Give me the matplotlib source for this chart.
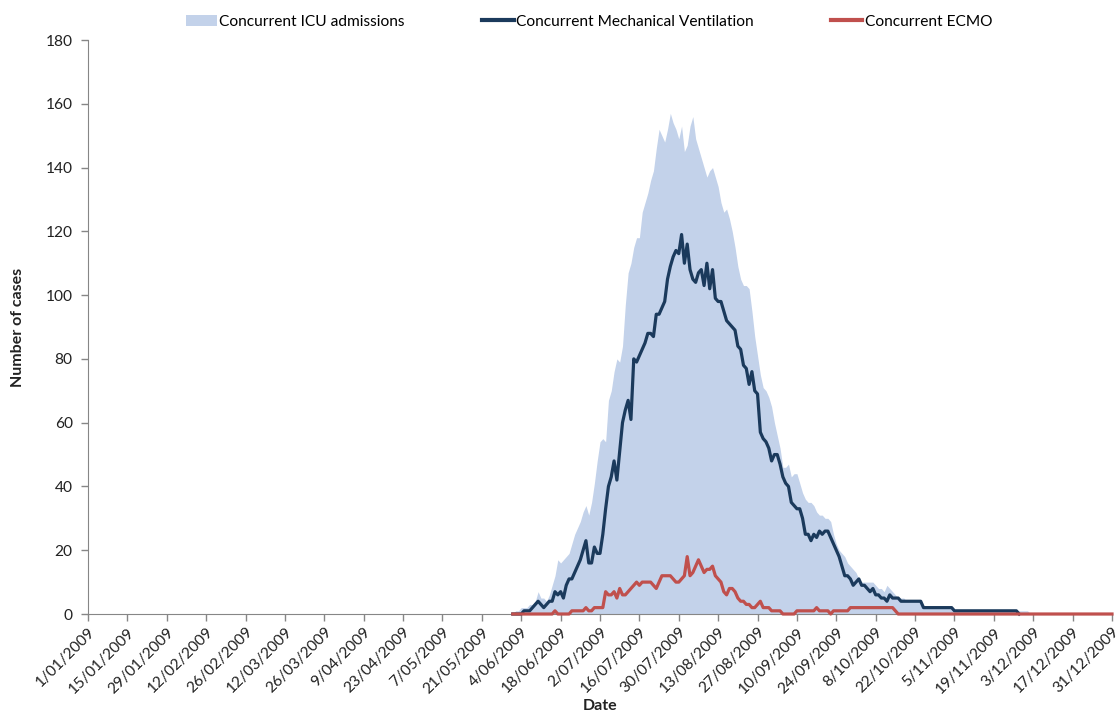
import numpy as np
import pandas as pd
import matplotlib
matplotlib.use('Agg')
import matplotlib.pyplot as plt
from matplotlib.patches import Patch
from matplotlib.lines import Line2D

plt.rcParams['font.family'] = ['Lato', 'DejaVu Sans']

# daily counts, starting 1 June 2009
start_date = '2009-06-01'

icu_admissions = [
    0, 1, 1, 2, 2, 2, 3, 3, 4, 7,
    5, 5, 4, 6, 9, 12, 17, 16, 17, 18,
    19, 22, 25, 27, 29, 32, 34, 31, 35, 41,
    48, 54, 55, 54, 67, 70, 76, 80, 79, 84,
    97, 107, 110, 115, 118, 118, 126, 129, 132, 136,
    139, 146, 152, 150, 148, 152, 157, 154, 152, 149,
    153, 145, 147, 153, 156, 149, 146, 143, 140, 137,
    139, 140, 137, 134, 129, 126, 127, 124, 120, 115,
    109, 105, 103, 103, 102, 95, 87, 81, 75, 71,
    70, 68, 65, 60, 56, 52, 46, 46, 47, 43,
    44, 44, 41, 38, 36, 35, 35, 34, 32, 31,
    31, 30, 30, 29, 25, 22, 20, 19, 18, 16,
    15, 14, 13, 11, 10, 10, 10, 10, 10, 9,
    8, 8, 7, 9, 8, 7, 6, 5, 5, 5,
    4, 4, 4, 4, 4, 4, 2, 2, 2, 2,
    2, 2, 2, 2, 2, 2, 2, 1, 1, 1,
    1, 1, 1, 1, 1, 1, 1, 1, 1, 1,
    1, 1, 1, 1, 1, 1, 1, 1, 1, 1,
    1, 1, 1, 1, 0,
]

mech_ventilation = [
    0, 0, 0, 0, 1, 1, 1, 2, 3, 4,
    3, 2, 3, 4, 4, 7, 6, 7, 5, 9,
    11, 11, 13, 15, 17, 20, 23, 16, 16, 21,
    19, 19, 25, 33, 40, 43, 48, 42, 51, 60,
    64, 67, 61, 80, 79, 81, 83, 85, 88, 88,
    87, 94, 94, 96, 98, 105, 109, 112, 114, 113,
    119, 110, 116, 108, 105, 104, 107, 108, 103, 110,
    102, 108, 99, 98, 98, 95, 92, 91, 90, 89,
    84, 83, 78, 77, 72, 76, 70, 69, 57, 55,
    54, 52, 48, 50, 50, 47, 43, 41, 40, 35,
    34, 33, 33, 30, 25, 25, 23, 25, 24, 26,
    25, 26, 26, 24, 22, 20, 18, 15, 12, 12,
    11, 9, 10, 11, 9, 9, 8, 7, 8, 6,
    6, 5, 5, 4, 6, 5, 5, 5, 4, 4,
    4, 4, 4, 4, 4, 4, 2, 2, 2, 2,
    2, 2, 2, 2, 2, 2, 2, 1, 1, 1,
    1, 1, 1, 1, 1, 1, 1, 1, 1, 1,
    1, 1, 1, 1, 1, 1, 1, 1, 1, 1,
    0,
]

ecmo = [
    0, 0, 0, 0, 0, 0, 0, 0, 0, 0,
    0, 0, 0, 0, 0, 1, 0, 0, 0, 0,
    0, 1, 1, 1, 1, 1, 2, 1, 1, 2,
    2, 2, 2, 7, 6, 6, 7, 5, 8, 6,
    6, 7, 8, 9, 10, 9, 10, 10, 10, 10,
    9, 8, 10, 12, 12, 12, 12, 11, 10, 10,
    11, 12, 18, 12, 13, 15, 17, 15, 13, 14,
    14, 15, 12, 11, 10, 7, 6, 8, 8, 7,
    5, 4, 4, 3, 3, 2, 2, 3, 4, 2,
    2, 2, 1, 1, 1, 1, 0, 0, 0, 0,
    0, 1, 1, 1, 1, 1, 1, 1, 2, 1,
    1, 1, 1, 0, 1, 1, 1, 1, 1, 1,
    2, 2, 2, 2, 2, 2, 2, 2, 2, 2,
    2, 2, 2, 2, 2, 2, 1, 0, 0, 0,
    0, 0, 0, 0, 0, 0, 0, 0, 0, 0,
    0, 0, 0, 0, 0, 0, 0, 0, 0, 0,
    0, 0, 0, 0, 0, 0, 0, 0, 0, 0,
    0, 0, 0, 0, 0, 0, 0, 0, 0, 0,
    0, 0, 0, 0, 0, 0, 0, 0, 0, 0,
    0, 0, 0, 0, 0, 0, 0, 0, 0, 0,
    0, 0, 0, 0, 0, 0, 0, 0, 0, 0,
    0, 0, 0, 0,
]

series_labels = ['Concurrent ICU admissions', 'Concurrent Mechanical Ventilation',
                 'Concurrent ECMO']
y_ticks = [0, 20, 40, 60, 80, 100, 120, 140, 160, 180]

icu_color = '#C3D2EA'
mv_color = '#1B3A5C'
ecmo_color = '#C0504D'
axis_color = '#868686'
text_color = '#222222'

icu_dates = pd.date_range(start_date, periods=len(icu_admissions), freq='D')
mv_dates = pd.date_range(start_date, periods=len(mech_ventilation), freq='D')
ecmo_dates = pd.date_range(start_date, periods=len(ecmo), freq='D')

fig = plt.figure(figsize=(11.2, 7.18), dpi=100)
ax = fig.add_axes([88 / 1120, 1 - 614 / 718, 1024 / 1120, 574 / 718])

ax.fill_between(icu_dates, icu_admissions, 0, color=icu_color, lw=0, zorder=1)
ax.plot(mv_dates, mech_ventilation, color=mv_color, lw=2.3, zorder=3, clip_on=False,
        solid_joinstyle='round')
ax.plot(ecmo_dates, ecmo, color=ecmo_color, lw=2.3, zorder=4, clip_on=False,
        solid_joinstyle='round')

# fortnightly date ticks across the whole year
x_ticks = pd.date_range('2009-01-01', '2009-12-31', freq='14D')
ax.set_xlim(pd.Timestamp('2009-01-01'), pd.Timestamp('2009-12-31'))
ax.set_xticks(x_ticks)
ax.set_xticklabels([f'{d.day}/{d:%m/%Y}' for d in x_ticks], rotation=45, ha='right',
                   rotation_mode='anchor', fontsize=11.2, color=text_color)
ax.set_ylim(0, 180)
ax.set_yticks(y_ticks)
ax.set_yticklabels([str(v) for v in y_ticks], fontsize=11.2, color=text_color)

for side in ['top', 'right']:
    ax.spines[side].set_visible(False)
for side in ['left', 'bottom']:
    ax.spines[side].set_color(axis_color)
ax.tick_params(direction='out', length=5, color=axis_color, width=1)
ax.tick_params(axis='x', pad=3)
ax.tick_params(axis='y', pad=6)

ax.set_xlabel('Date', fontsize=11.5, fontweight='bold', color=text_color)
ax.xaxis.set_label_coords(0.5, -0.148)
ax.set_ylabel('Number of cases', fontsize=11.5, fontweight='bold', color=text_color)
ax.yaxis.set_label_coords(-0.0615, 0.5)

handles = [Patch(facecolor=icu_color, edgecolor='none'),
           Line2D([], [], color=mv_color, lw=3),
           Line2D([], [], color=ecmo_color, lw=3)]
fig.legend(handles, series_labels, loc='upper center', bbox_to_anchor=(589 / 1120, 1 - 4 / 718),
           ncol=3, frameon=False, fontsize=11.2, handlelength=2.0, handletextpad=0.15,
           columnspacing=5.0, borderaxespad=0.3)

fig.savefig('out.png', dpi=100)
